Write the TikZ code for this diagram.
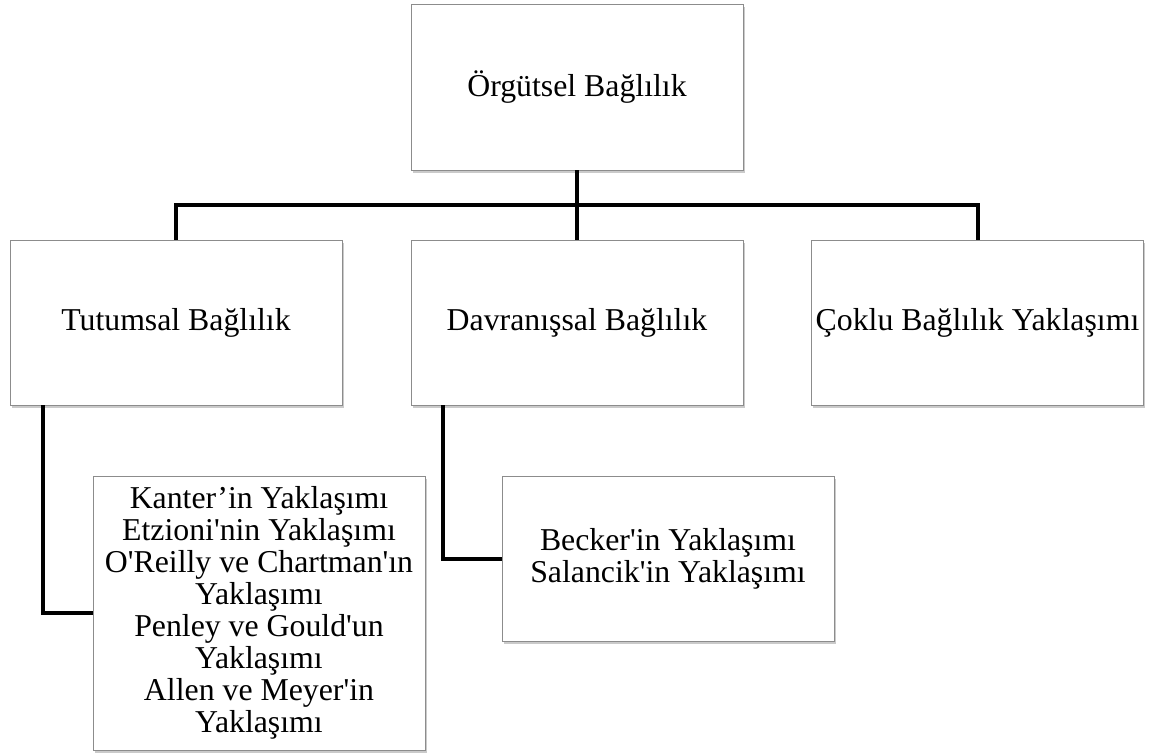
\documentclass[tikz,border=0pt]{standalone}
\usepackage{fontspec}
\setmainfont{Liberation Serif}[Ligatures=TeXOff]
\usetikzlibrary{shadows}

\tikzset{
  kutu/.style={draw=black!45, line width=0.8pt, fill=white, inner sep=0pt,
    minimum width=332pt, minimum height=165pt, align=center,
    font=\fontsize{31.8}{32}\selectfont,
    drop shadow={shadow xshift=1.5pt, shadow yshift=-2.5pt, opacity=0.35, fill=black!60}},
  baglanti/.style={line width=4pt, black}
}

\begin{document}
\begin{tikzpicture}[x=1pt, y=-1pt]
\useasboundingbox (0,0) rectangle (1150,753);

% ust kutu
\node [kutu, minimum height=166pt] (orgutsel) at (577,87) {Örgütsel Bağlılık};

% ikinci duzey
\node [kutu] (tutumsal) at (176,322.5) {Tutumsal Bağlılık};
\node [kutu] (davranissal) at (577,322.5) {Davranışsal Bağlılık};
\node [kutu] (coklu) at (977.5,322.5) {Çoklu Bağlılık Yaklaşımı};

% alt kutular
\node [kutu, minimum height=274pt] (tutumalt) at (259,613)
  {Kanter’in Yaklaşımı\\Etzioni'nin Yaklaşımı\\O'Reilly ve Chartman'ın\\Yaklaşımı\\Penley ve Gould'un\\Yaklaşımı\\Allen ve Meyer'in\\Yaklaşımı};
\node [kutu] (davranalt) at (668,558.5)
  {Becker'in Yaklaşımı\\Salancik'in Yaklaşımı};

% baglantilar
\coordinate (dugum) at (577,205);
\draw [baglanti] (orgutsel.south) -- (dugum);
\draw [baglanti] (dugum) -| (tutumsal.north);
\draw [baglanti] (dugum) -- (davranissal.north);
\draw [baglanti] (dugum) -| (coklu.north);

\draw [baglanti] ([xshift=33pt]tutumsal.south west) |- (tutumalt.west);
\draw [baglanti] ([xshift=32pt]davranissal.south west) |- (davranalt.west);

\end{tikzpicture}
\end{document}
